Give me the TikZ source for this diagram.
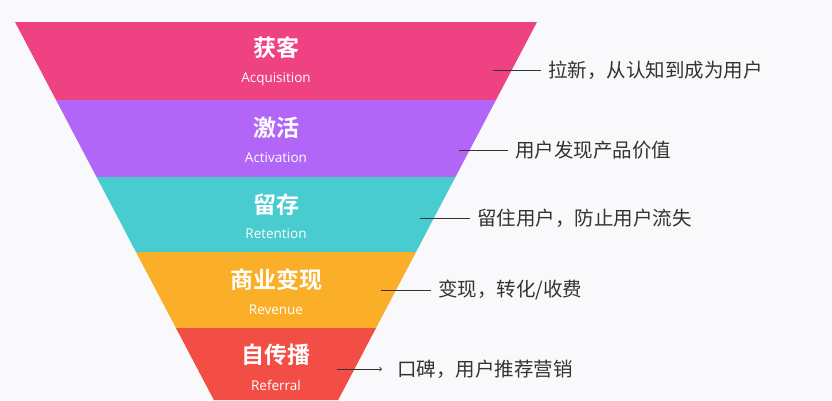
\documentclass[tikz,border=0pt]{standalone}
\usepackage{fontspec}
\setmainfont{Liberation Sans}
\newfontfamily\cjk{Noto Sans CJK SC}
\newfontfamily\cjkbold{Noto Sans CJK SC Bold}
\newfontfamily\latlight{Open Sans}
\usetikzlibrary{arrows,calc,positioning}
\definecolor{cPink}{HTML}{EE4283}
\definecolor{cPurple}{HTML}{B266F7}
\definecolor{cCyan}{HTML}{48CCD0}
\definecolor{cOrange}{HTML}{FBAE27}
\definecolor{cRed}{HTML}{F24E46}
\definecolor{cText}{HTML}{333333}
\definecolor{cBack}{HTML}{F9F9FB}
\tikzstyle{title} = [text=white, font=\cjkbold\fontsize{23}{23}\selectfont, inner sep=0pt]
\tikzstyle{sub} = [text=white, font=\latlight\fontsize{13.5}{13.5}\selectfont, inner sep=0pt]
\tikzstyle{desc} = [text=cText, font=\cjk\fontsize{19.5}{19.5}\selectfont, inner sep=0pt, anchor=west]
\tikzstyle{pointer} = [cText, line width=0.8pt, -to]

\begin{document}
\begin{tikzpicture}[x=1pt, y=-1pt]
            \fill[cBack] (0,0) rectangle (832,400);
            \useasboundingbox (0,0) rectangle (832,400);
            % funnel bands: top y, bottom y, colour
            \foreach \ya/\yb/\col in {22/100/cPink, 100/177/cPurple, 177/252/cCyan, 252/328/cOrange, 328/400/cRed}{
                \fill[\col] ({276-261+0.526*(\ya-22)},\ya) -- ({276+261-0.526*(\ya-22)},\ya)
                    -- ({276+261-0.526*(\yb-22)},\yb) -- ({276-261+0.526*(\yb-22)},\yb) -- cycle;
            }

            \node[title] (T1) at (276,48) {获客};
            \node[sub] (S1) at (276,79) {Acquisition};
            \node[title] (T2) at (276,128) {激活};
            \node[sub] (S2) at (276,158) {Activation};
            \node[title] (T3) at (276,205) {留存};
            \node[sub] (S3) at (276,234) {Retention};
            \node[title] (T4) at (276,280) {商业变现};
            \node[sub] (S4) at (276,310) {Revenue};
            \node[title] (T5) at (276,355) {自传播};
            \node[sub] (S5) at (276,385) {Referral};

            \node[desc] (D1) at (548,70) {拉新，从认知到成为用户};
            \node[desc] (D2) at (515,150) {用户发现产品价值};
            \node[desc] (D3) at (477,218) {留住用户，防止用户流失};
            \node[desc] (D4) at (438,290) {变现，转化/收费};
            \node[desc] (D5) at (397,369) {口碑，用户推荐营销};

            \coordinate (P1) at (493,70);
            \coordinate (P2) at (459,150);
            \coordinate (P3) at (420,218);
            \coordinate (P4) at (381,290);
            \coordinate (P5) at (337,369);
            \path
                [draw, pointer]
                (P1) -- ([xshift=-7pt]D1.west)
                (P2) -- ([xshift=-7pt]D2.west)
                (P3) -- ([xshift=-7pt]D3.west)
                (P4) -- ([xshift=-7pt]D4.west)
                (P5) -- ([xshift=-15pt]D5.west);
        \end{tikzpicture}
\end{document}
